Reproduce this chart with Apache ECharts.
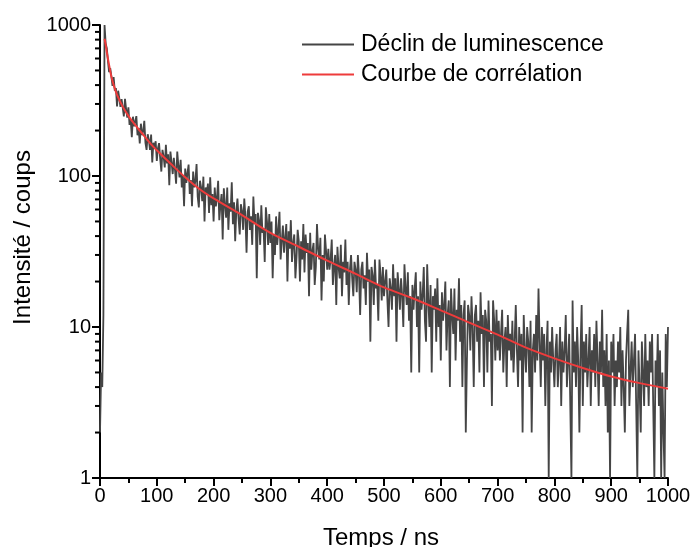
<!DOCTYPE html>
<html>
<head>
<meta charset="utf-8">
<script src="https://cdn.jsdelivr.net/npm/echarts@6/dist/echarts.min.js"></script>
<style>
  html, body { margin: 0; padding: 0; background: #fff; }
  #chart { width: 692px; height: 547px; }
</style>
</head>
<body>
<div id="chart"></div>
<script>
// time base of the decay histogram (ns)
const timeStep = 2;

// counts, 2 ns per point
const countsRise = [2, 5, 4, 12, 1000];
const counts100 = [754, 703, 578, 488, 518, 458, 395, 452, 368, 382, 289, 367, 327, 287, 323, 284, 248, 324, 277, 244, 285, 218, 238, 181, 247, 213, 230, 249, 186, 208, 164, 222, 187, 197, 232, 166, 149, 189, 174, 149, 188, 123, 166, 152, 170, 126];
const counts200 = [152, 165, 130, 107, 149, 135, 114, 161, 121, 139, 87, 145, 123, 103, 132, 110, 89, 145, 117, 98, 128, 84, 101, 63, 112, 90, 105, 119, 76, 94, 63, 107, 84, 93, 120, 73, 62, 93, 84, 68, 99, 50, 84, 75, 89, 57, 98, 64, 76, 50];
const counts300 = [84, 63, 72, 93, 51, 64, 76, 38, 83, 64, 53, 84, 44, 66, 58, 91, 48, 67, 37, 59, 71, 52, 41, 65, 59, 44, 71, 54, 31, 58, 63, 44, 54, 35, 73, 48, 56, 21, 57, 51, 35, 64, 42, 45, 27, 62, 50, 35, 56, 36];
const counts400 = [50, 21, 41, 30, 54, 35, 44, 58, 28, 37, 47, 31, 39, 48, 20, 43, 33, 51, 27, 36, 41, 21, 29, 44, 37, 20, 37, 28, 48, 23, 41, 31, 36, 16, 42, 24, 32, 36, 19, 25, 48, 33, 28, 39, 15, 30, 20, 41, 32, 24];
const counts500 = [33, 24, 28, 38, 19, 25, 30, 14, 34, 25, 21, 35, 16, 27, 23, 38, 19, 27, 14, 24, 30, 21, 16, 27, 24, 17, 30, 22, 12, 24, 27, 18, 22, 14, 31, 20, 24, 8, 25, 22, 14, 28, 18, 19, 11, 28, 22, 15, 25, 16];
const counts600 = [20, 24, 15, 10, 21, 18, 13, 26, 16, 21, 8, 23, 18, 13, 21, 16, 10, 26, 18, 14, 23, 11, 16, 5, 19, 13, 18, 23, 10, 16, 5, 20, 13, 16, 25, 11, 8, 26, 15, 10, 19, 5, 16, 13, 18, 8, 21, 10, 14, 6];
const counts700 = [17, 11, 14, 20, 7, 12, 15, 4, 18, 12, 9, 18, 6, 13, 11, 21, 8, 14, 4, 12, 15, 2, 6, 14, 12, 7, 16, 10, 4, 12, 14, 8, 11, 5, 17, 9, 12, 4, 13, 11, 5, 15, 8, 9, 3, 15, 11, 6, 13, 7];
const counts800 = [11, 6, 9, 13, 5, 8, 10, 4, 12, 7, 9, 6, 11, 5, 8, 14, 7, 4, 10, 6, 9, 2, 12, 7, 5, 10, 8, 4, 11, 2, 7, 9, 5, 12, 6, 18, 8, 4, 10, 6, 9, 3, 7, 11, 1, 8, 5, 10, 6, 4];
const counts900 = [7, 9, 4, 6, 10, 3, 8, 5, 7, 12, 4, 6, 9, 3, 1, 15, 5, 8, 4, 10, 6, 2, 7, 14, 3, 8, 5, 9, 4, 6, 10, 3, 7, 5, 9, 4, 11, 6, 3, 8, 5, 13, 4, 7, 3, 9, 2, 6, 1, 8];
const counts1000 = [5, 9, 3, 6, 4, 8, 5, 10, 3, 7, 4, 2, 6, 9, 13, 3, 5, 8, 4, 6, 9, 3, 1, 7, 4, 2, 8, 5, 3, 9, 4, 6, 3, 8, 5, 9, 3, 1, 6, 4, 9, 3, 7, 1, 5, 2, 1, 9, 4, 10];

// fitted curve, read at a few times
const fitTimes = [8, 10, 12, 15, 20, 25, 30, 40, 50, 60, 70, 80, 90, 100, 125, 150, 175, 200, 250, 300, 350, 400, 450, 500, 550, 600, 650, 700, 750, 800, 850, 900, 950, 1000];
const fitValues = [810, 740, 660, 570, 455, 390, 345, 288, 250, 222, 200, 180, 162, 148, 120, 98, 82, 71, 55, 42, 34, 27.5, 22.5, 18.3, 15.5, 12.9, 10.7, 8.9, 7.3, 6.2, 5.35, 4.7, 4.25, 3.9];

// minor ticks of the log axis (2..9 in each decade)
const yMinorTicks = [2, 3, 4, 5, 6, 7, 8, 9, 20, 30, 40, 50, 60, 70, 80, 90, 200, 300, 400, 500, 600, 700, 800, 900];

const allCounts = [].concat(countsRise, counts100, counts200, counts300, counts400,
  counts500, counts600, counts700, counts800, counts900, counts1000);
const decayData = allCounts.map((c, i) => [i * timeStep, c]);
const fitData = fitTimes.map((t, i) => [t, fitValues[i]]);

const font = 'Liberation Sans, Arial, sans-serif';
const axisColor = '#000';
const plainNumber = (v) => String(v);

const myChart = echarts.init(document.getElementById('chart'));

const option = {
  animation: false,
  backgroundColor: '#fff',
  textStyle: { fontFamily: font },
  grid: { left: 100, right: 24, top: 25, bottom: 69, containLabel: false, outerBoundsMode: 'none' },
  legend: {
    orient: 'vertical',
    left: 297,
    top: 28,
    itemWidth: 52,
    itemHeight: 2,
    itemGap: 7,
    icon: 'rect',
    textStyle: { fontFamily: font, fontSize: 23, color: '#000', padding: [0, 0, 0, 2] },
    data: ['Déclin de luminescence', 'Courbe de corrélation']
  },
  xAxis: {
    type: 'value',
    min: 0,
    max: 1000,
    interval: 100,
    name: 'Temps / ns',
    nameLocation: 'middle',
    nameGap: 48,
    nameTextStyle: { fontFamily: font, fontSize: 24, color: '#000', padding: [0, 6, 0, 0] },
    axisLine: { lineStyle: { color: axisColor, width: 2 } },
    axisTick: { length: 8, lineStyle: { color: axisColor, width: 2 } },
    minorTick: { show: true, splitNumber: 2, length: 5, lineStyle: { color: axisColor, width: 2 } },
    axisLabel: { fontFamily: font, fontSize: 20, color: '#000', margin: 8, formatter: plainNumber },
    splitLine: { show: false }
  },
  yAxis: [
    {
      type: 'log',
      logBase: 10,
      min: 1,
      max: 1000,
      name: 'Intensité / coups',
      nameLocation: 'middle',
      nameGap: 60,
      nameTextStyle: { fontFamily: font, fontSize: 24, color: '#000', padding: [0, 0, 0, 28] },
      axisLine: { show: true, lineStyle: { color: axisColor, width: 2 } },
      axisTick: { show: true, length: 8, lineStyle: { color: axisColor, width: 2 } },
      axisLabel: { fontFamily: font, fontSize: 20, color: '#000', margin: 9, formatter: plainNumber },
      splitLine: { show: false }
    },
    {
      // hidden helper axis in decades, used to place the log minor ticks
      type: 'value',
      min: 0,
      max: 3,
      show: false
    }
  ],
  series: [
    {
      name: 'Déclin de luminescence',
      type: 'line',
      yAxisIndex: 0,
      data: decayData,
      showSymbol: false,
      symbol: 'none',
      color: '#454545',
      lineStyle: { color: '#454545', width: 1.8 },
      z: 2
    },
    {
      name: 'Courbe de corrélation',
      type: 'line',
      yAxisIndex: 0,
      data: fitData,
      smooth: 0.3,
      showSymbol: false,
      symbol: 'none',
      color: '#ee3b3b',
      lineStyle: { color: '#ee3b3b', width: 2 },
      z: 3
    }
  ]
};

option && myChart.setOption(option);

// log-axis minor ticks (2..9 per decade)
const axisX = myChart.convertToPixel({ xAxisIndex: 0 }, 0);
const minorTickShapes = [];
yMinorTicks.forEach((v) => {
  const y = myChart.convertToPixel({ yAxisIndex: 1 }, Math.log10(v));
  if (typeof y === 'number' && isFinite(y)) {
    minorTickShapes.push({
      type: 'line',
      silent: true,
      z: 100,
      shape: { x1: axisX - 5, y1: y, x2: axisX, y2: y },
      style: { stroke: axisColor, lineWidth: 2 }
    });
  }
});
myChart.setOption({ graphic: { elements: minorTickShapes } });
</script>
</body>
</html>
